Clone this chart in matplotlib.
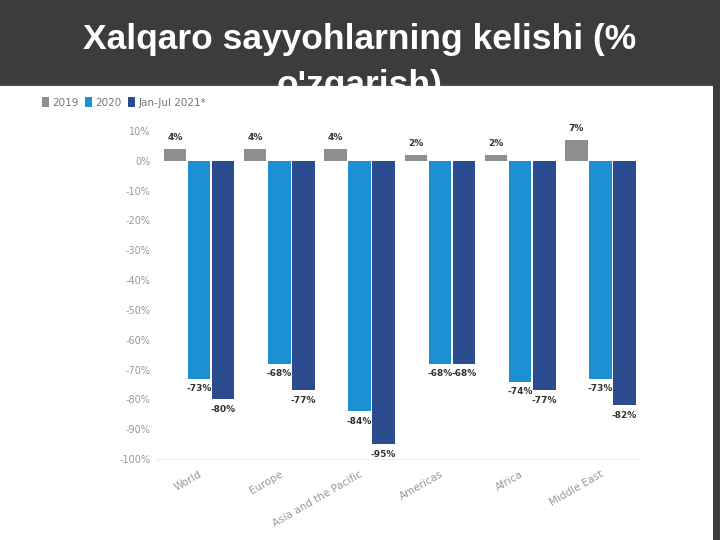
import matplotlib.pyplot as plt
import numpy as np
from matplotlib.patches import Rectangle

# Data (% change in international tourist arrivals)
regions = ["World", "Europe", "Asia and the Pacific", "Americas", "Africa", "Middle East"]
series_names = ["2019", "2020", "Jan-Jul 2021*"]
vals_2019 = [4, 4, 4, 2, 2, 7]
vals_2020 = [-73, -68, -84, -68, -74, -73]
vals_2021 = [-80, -77, -95, -68, -77, -82]
colors = ["#8e8e8e", "#1b90d2", "#2b4c8e"]
yticks = list(range(10, -101, -10))

fig = plt.figure(figsize=(7.2, 5.4), dpi=100)
fig.patch.set_facecolor("#3c3c3c")

# slide title, partly hidden behind the white chart panel
fig.text(0.5, 0.927, "Xalqaro sayyohlarning kelishi (%", ha="center", va="center",
         color="white", fontsize=25.5, fontweight="bold", family="Liberation Sans")
fig.text(0.5, 0.842, "o'zgarish)", ha="center", va="center",
         color="white", fontsize=25.5, fontweight="bold", family="Liberation Sans")

panel = Rectangle((0, 0), 713/720, 1 - 86/540, transform=fig.transFigure,
                  facecolor="white", edgecolor="none", zorder=1)
fig.patches.append(panel)
fig.add_artist(Rectangle((0, 1 - 86/540), 713/720, 2/540, transform=fig.transFigure,
                         facecolor="#4a4a4a", edgecolor="none", zorder=1))

ax = fig.add_axes([0.215, 0.1444, 0.677, 0.624])
ax.set_zorder(2)
ax.set_facecolor("none")

x = np.arange(len(regions))
w = 0.28
step = 0.30
for i, (vals, c) in enumerate(zip([vals_2019, vals_2020, vals_2021], colors)):
    pos = x + (i - 1) * step
    ax.bar(pos, vals, width=w, color=c, label=series_names[i], zorder=3)
    for p, v in zip(pos, vals):
        if v >= 0:
            ax.annotate(f"{v}%", (p, v), xytext=(0, 5), textcoords="offset points",
                        ha="center", va="bottom", fontsize=6.5, fontweight="bold", color="#333333")
        else:
            ax.annotate(f"{v}%", (p, v), xytext=(0, -4), textcoords="offset points",
                        ha="center", va="top", fontsize=6.5, fontweight="bold", color="#333333")

ax.set_xlim(-0.55, 5.52)
ax.set_ylim(-101, 12)
ax.set_yticks(yticks)
ax.set_yticklabels([f"{t}%" for t in yticks], color="#999999", fontsize=7)
ax.set_xticks(x)
ax.set_xticklabels(regions, rotation=30, ha="right", rotation_mode="anchor",
                   color="#999999", fontsize=7.5)
ax.tick_params(axis="y", length=0, pad=3)
ax.tick_params(axis="x", length=0, pad=5)
ax.axhline(-100, color="#f0f0f0", lw=0.8, zorder=1)
for s in ax.spines.values():
    s.set_visible(False)

leg = ax.legend(loc="upper left", bbox_to_anchor=(42/720, 1 - 97/540),
                bbox_transform=fig.transFigure, ncol=3, frameon=False,
                fontsize=7.5, handlelength=0.7, handleheight=1.1, handletextpad=0.3,
                columnspacing=0.6, borderaxespad=0, borderpad=0)
for t in leg.get_texts():
    t.set_color("#777777")

fig.savefig("out.png", dpi=100, facecolor=fig.get_facecolor())
